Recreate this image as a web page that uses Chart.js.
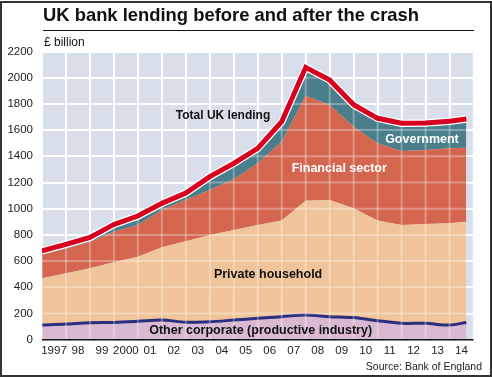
<!DOCTYPE html>
<html>
<head>
<meta charset="utf-8">
<script src="https://cdn.jsdelivr.net/npm/chart.js@4.4.1/dist/chart.umd.min.js"></script>
<style>
  html, body { margin: 0; padding: 0; background: #fff; }
  body { width: 492px; height: 377px; position: relative; overflow: hidden; font-family: "Liberation Sans", Arial, sans-serif; color: #111; }
  #wrap { position: absolute; left: 0; top: 0; width: 492px; height: 377px; }
  #frame { position: absolute; left: 0; top: 1px; width: 492px; height: 376px; box-sizing: border-box; border: 2px solid #333; pointer-events: none; }
  #title { position: absolute; left: 43px; top: 5px; font-weight: bold; font-size: 18.4px; line-height: 20px; white-space: nowrap; }
  #rule { position: absolute; left: 43px; top: 30px; width: 431px; height: 1.3px; background: #111; }
  #unit { position: absolute; left: 44px; top: 35px; font-size: 12px; line-height: 14px; }
  #source { position: absolute; right: 10px; top: 359px; font-size: 10.5px; line-height: 14px; color: #222; }
</style>
</head>
<body>
<div id="wrap"><canvas id="lendingChart"></canvas></div>
<div id="title">UK bank lending before and after the crash</div>
<div id="rule"></div>
<div id="unit">£ billion</div>
<div id="source">Source: Bank of England</div>
<div id="frame"></div>
<script>
// observation dates (year start), last point is late 2014
const dates = [1997, 1998, 1999, 2000, 2001, 2002, 2003, 2004, 2005, 2006, 2007, 2008, 2009, 2010, 2011, 2012, 2013, 2014, 2014.7];
const xLabels = ['1997', '98', '99', '2000', '01', '02', '03', '04', '05', '06', '07', '08', '09', '10', '11', '12', '13', '14'];

// £ billion, stacked from the bottom
const otherCorporate = [112, 119, 130, 132, 140, 150, 134, 137, 150, 163, 176, 188, 176, 169, 145, 125, 125, 112, 132];
const privateHousehold = [357, 388, 415, 459, 494, 555, 618, 662, 688, 713, 733, 873, 891, 834, 764, 751, 758, 776, 769];
const financialSector = [183, 187, 201, 234, 242, 285, 316, 344, 387, 470, 602, 802, 725, 623, 590, 564, 565, 573, 565];
const government = [26, 34, 35, 55, 68, 51, 51, 102, 121, 115, 153, 216, 190, 168, 191, 212, 207, 206, 219];
const totalLending = [678, 728, 781, 880, 944, 1041, 1119, 1245, 1346, 1461, 1664, 2079, 1982, 1794, 1690, 1652, 1655, 1667, 1685];

const yTicks = [0, 200, 400, 600, 800, 1000, 1200, 1400, 1600, 1800, 2000, 2200];

const areaLabels = [
  { text: 'Total UK lending', x: 2004.55, y: 1708, color: '#111', size: 12 },
  { text: 'Financial sector', x: 2009.4, y: 1303, color: '#fff', size: 12.5 },
  { text: 'Government', x: 2012.85, y: 1525, color: '#fff', size: 12.5 },
  { text: 'Private household', x: 2006.43, y: 494, color: '#111', size: 12.5 },
  { text: 'Other corporate (productive industry)', x: 2006.12, y: 69, color: '#111', size: 12.5 },
];

function pts(values) {
  return values.map((v, i) => ({ x: dates[i], y: v }));
}

const plotBackground = {
  id: 'plotBackground',
  beforeDraw(chart) {
    const { ctx, chartArea } = chart;
    ctx.save();
    ctx.fillStyle = '#d8dfea';
    ctx.fillRect(chartArea.left, chartArea.top, chartArea.right - chartArea.left, chartArea.bottom - chartArea.top);
    ctx.restore();
  },
};

// faint grid over the filled areas, before the total line is drawn
const overGrid = {
  id: 'overGrid',
  afterDatasetDraw(chart, args) {
    if (args.index !== 2) return;
    const { ctx, chartArea, scales } = chart;
    ctx.save();
    ctx.beginPath();
    ctx.rect(chartArea.left, chartArea.top, chartArea.right - chartArea.left, chartArea.bottom - chartArea.top);
    ctx.clip();
    ctx.strokeStyle = 'rgba(255,255,255,0.3)';
    ctx.lineWidth = 2;
    for (let yr = 1997; yr <= 2015; yr++) {
      const px = scales.x.getPixelForValue(yr);
      ctx.beginPath();
      ctx.moveTo(px, chartArea.top);
      ctx.lineTo(px, chartArea.bottom);
      ctx.stroke();
    }
    yTicks.forEach((v) => {
      const py = scales.y.getPixelForValue(v);
      ctx.beginPath();
      ctx.moveTo(chartArea.left, py);
      ctx.lineTo(chartArea.right, py);
      ctx.stroke();
    });
    ctx.restore();
  },
  afterDatasetsDraw(chart) {
    const { ctx, chartArea, scales } = chart;
    ctx.save();
    ctx.strokeStyle = '#111';
    ctx.lineWidth = 1.5;
    ctx.beginPath();
    ctx.moveTo(chartArea.left, chartArea.bottom);
    ctx.lineTo(chartArea.right, chartArea.bottom);
    ctx.stroke();
    ctx.textAlign = 'center';
    ctx.textBaseline = 'middle';
    areaLabels.forEach((l) => {
      ctx.font = 'bold ' + l.size + 'px "Liberation Sans", Arial, sans-serif';
      ctx.fillStyle = l.color;
      ctx.fillText(l.text, scales.x.getPixelForValue(l.x), scales.y.getPixelForValue(l.y));
    });
    ctx.restore();
  },
};

const tickFont = { family: '"Liberation Sans", Arial, sans-serif', size: 11.5 };

new Chart(document.getElementById('lendingChart'), {
  type: 'line',
  data: {
    datasets: [
      {
        label: 'Total UK lending',
        data: pts(totalLending),
        stack: 'totalRed',
        borderColor: '#d7001e',
        borderWidth: 5,
        fill: false,
        borderJoinStyle: 'miter',
      },
      {
        label: 'Total outline',
        data: pts(totalLending),
        stack: 'totalWhite',
        borderColor: '#ffffff',
        borderWidth: 7.5,
        fill: false,
        borderJoinStyle: 'miter',
      },
      {
        label: 'Other corporate',
        data: pts(otherCorporate),
        stack: 'main',
        borderColor: '#2b2e7e',
        borderWidth: 3,
        backgroundColor: '#d8b9d1',
        fill: 'origin',
        tension: 0.3,
      },
      {
        label: 'Private household',
        data: pts(privateHousehold),
        stack: 'main',
        borderWidth: 0,
        borderColor: 'rgba(0,0,0,0)',
        backgroundColor: '#f0c49b',
        fill: '-1',
      },
      {
        label: 'Financial sector',
        data: pts(financialSector),
        stack: 'main',
        borderWidth: 0,
        borderColor: 'rgba(0,0,0,0)',
        backgroundColor: '#d4654f',
        fill: '-1',
      },
      {
        label: 'Government',
        data: pts(government),
        stack: 'main',
        borderWidth: 0,
        borderColor: 'rgba(0,0,0,0)',
        backgroundColor: '#4a7e8b',
        fill: '-1',
      },
    ],
  },
  options: {
    responsive: true,
    maintainAspectRatio: false,
    animation: false,
    layout: { padding: { left: 0, top: 51.5, right: 18.5, bottom: 17.3 } },
    elements: { point: { radius: 0 }, line: { tension: 0 } },
    plugins: { legend: { display: false }, tooltip: { enabled: false } },
    scales: {
      x: {
        type: 'linear',
        min: 1997,
        max: 2015,
        afterBuildTicks(scale) {
          scale.ticks = xLabels.map((l, i) => ({ value: 1997.5 + i }));
        },
        afterFit(scale) { scale.height = 20; },
        ticks: {
          autoSkip: false,
          maxRotation: 0,
          padding: 4,
          color: '#222',
          font: tickFont,
          callback: (v, i) => xLabels[i],
        },
        grid: { color: '#ffffff', lineWidth: 2, offset: true, drawTicks: false },
        border: { display: false },
      },
      y: {
        stacked: true,
        min: 0,
        max: 2200,
        afterBuildTicks(scale) {
          scale.ticks = yTicks.map((v) => ({ value: v }));
        },
        afterFit(scale) { scale.width = 42; },
        ticks: { padding: 9, color: '#222', font: tickFont, callback: (v) => String(v) },
        grid: { color: '#ffffff', lineWidth: 2, drawTicks: false },
        border: { display: false },
      },
    },
  },
  plugins: [plotBackground, overGrid],
});
</script>
</body>
</html>
